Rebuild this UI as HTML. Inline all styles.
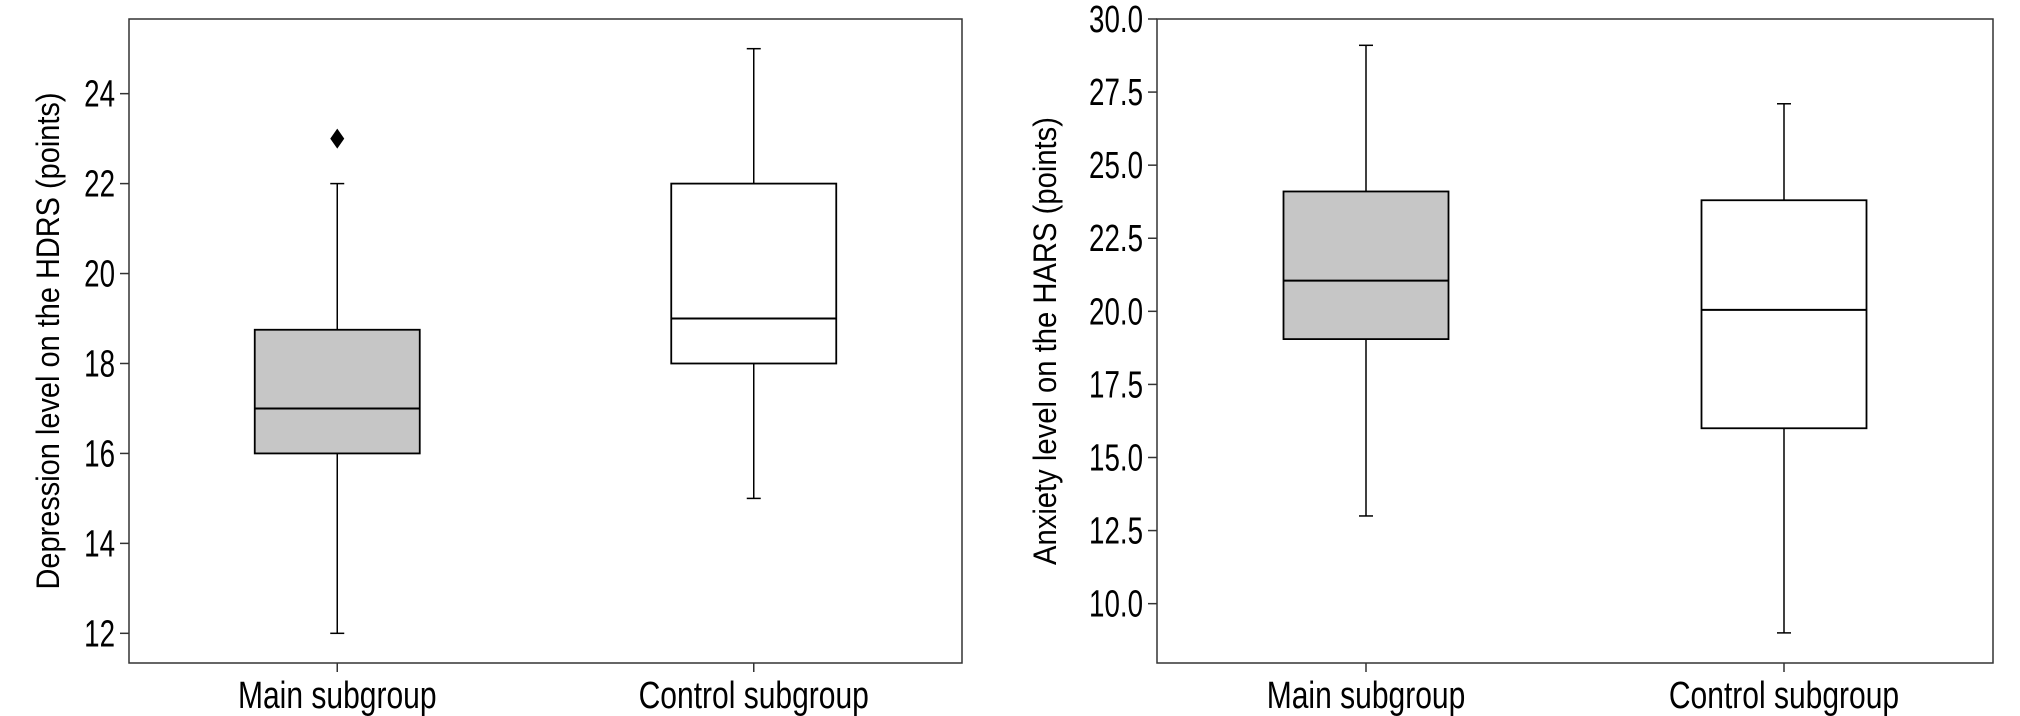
<!DOCTYPE html>
<html><head><meta charset="utf-8"><style>
html,body{margin:0;padding:0;background:#fff;}
svg{display:block;}
text{font-family:"Liberation Sans Narrow","Liberation Sans",sans-serif;fill:#000;}
</style></head><body>
<svg id="chart" width="2020" height="716" viewBox="0 0 2020 716" xmlns="http://www.w3.org/2000/svg"></svg>
<script>
const groups = ["Main subgroup", "Control subgroup"];
const fills = ["#c6c6c6", "#ffffff"];
// [whiskerLow, q1, median, q3, whiskerHigh]
const depressionStats = [[12, 16, 17, 18.75, 22], [15, 18, 19, 22, 25]];
const depressionOutliers = [[23], []];
const depressionTicks = [12, 14, 16, 18, 20, 22, 24];
const depressionTickLabels = ["12", "14", "16", "18", "20", "22", "24"];
const anxietyStats = [[13, 19.05, 21.05, 24.1, 29.1], [9, 16, 20.05, 23.8, 27.1]];
const anxietyOutliers = [[], []];
const anxietyTicks = [10, 12.5, 15, 17.5, 20, 22.5, 25, 27.5, 30];
const anxietyTickLabels = ["10.0", "12.5", "15.0", "17.5", "20.0", "22.5", "25.0", "27.5", "30.0"];

const NS = "http://www.w3.org/2000/svg";
const svg = document.getElementById("chart");
function mk(tag, attrs, parent) {
  const e = document.createElementNS(NS, tag);
  for (const k in attrs) e.setAttribute(k, attrs[k]);
  (parent || svg).appendChild(e);
  return e;
}
function panel(cfg) {
  const g = mk("g", {});
  
  
  const {x0, x1, y0, y1, vmin, vmax} = cfg;
  const y = v => y1 - (v - vmin) / (vmax - vmin) * (y1 - y0);
  const xc = i => x0 + (x1 - x0) * (0.25 + 0.5 * i);
  const bw = 165;
  const frame = mk("rect", {x: x0, y: y0, width: x1 - x0, height: y1 - y0, fill: "none", stroke: "#333", "stroke-width": 1.5}, g);
  
  
  cfg.ticks.forEach((t, i) => {
    const ty = y(t);
    const tk = mk("line", {x1: x0 - 9, x2: x0, y1: ty, y2: ty, stroke: "#333", "stroke-width": 1.5}, g);
    
    
    const tl = mk("text", {x: 0, y: 0, "text-anchor": "end", "font-size": 38, transform: `translate(${x0 - 14},${ty + 13}) scale(0.73,1)`}, g);
    tl.textContent = cfg.tickLabels[i];
    
    
  });
  const yl = mk("text", {x: 0, y: 0, "text-anchor": "middle", style: "font-family:'Liberation Sans',sans-serif;font-size:32px", textLength: cfg.labelLen, lengthAdjust: "spacingAndGlyphs", transform: `translate(${cfg.labelX},${(y0 + y1) / 2}) rotate(-90)`}, g);
  yl.textContent = cfg.label;
  
  
  groups.forEach((name, i) => {
    const cx = xc(i), s = cfg.stats[i];
    const xt = mk("line", {x1: cx, x2: cx, y1: y1, y2: y1 + 9, stroke: "#333", "stroke-width": 1.5}, g);
    
    
    const xl = mk("text", {x: 0, y: 0, "text-anchor": "middle", "font-size": 38, transform: `translate(${cx},708) scale(0.79,1)`}, g);
    xl.textContent = name;
    
    
    const wl = mk("line", {x1: cx, x2: cx, y1: y(s[0]), y2: y(s[1]), stroke: "#000", "stroke-width": 1.5}, g);
    
    
    const wh = mk("line", {x1: cx, x2: cx, y1: y(s[3]), y2: y(s[4]), stroke: "#000", "stroke-width": 1.5}, g);
    
    
    [s[0], s[4]].forEach(v => {
      const cap = mk("line", {x1: cx - 7, x2: cx + 7, y1: y(v), y2: y(v), stroke: "#000", "stroke-width": 1.5}, g);
      
      
    });
    const box = mk("rect", {x: cx - bw / 2, y: y(s[3]), width: bw, height: y(s[1]) - y(s[3]), fill: fills[i], stroke: "#000", "stroke-width": 1.8}, g);
    
    
    const md = mk("line", {x1: cx - bw / 2, x2: cx + bw / 2, y1: y(s[2]), y2: y(s[2]), stroke: "#000", "stroke-width": 2}, g);
    
    
    cfg.outliers[i].forEach(v => {
      const oy = y(v);
      const o = mk("polygon", {points: `${cx},${oy - 10} ${cx + 7},${oy} ${cx},${oy + 10} ${cx - 7},${oy}`, fill: "#000"}, g);
      
      
    });
  });
}
panel({name: "depression-panel", x0: 129, x1: 962, y0: 19, y1: 663, vmin: 11.34, vmax: 25.66,
  stats: depressionStats, outliers: depressionOutliers, ticks: depressionTicks, tickLabels: depressionTickLabels,
  label: "Depression level on the HDRS (points)", labelX: 59, labelLen: 497});
panel({name: "anxiety-panel", x0: 1157, x1: 1993, y0: 19, y1: 663, vmin: 7.97, vmax: 30,
  stats: anxietyStats, outliers: anxietyOutliers, ticks: anxietyTicks, tickLabels: anxietyTickLabels,
  label: "Anxiety level on the HARS (points)", labelX: 1056, labelLen: 448});
</script>
</body></html>
